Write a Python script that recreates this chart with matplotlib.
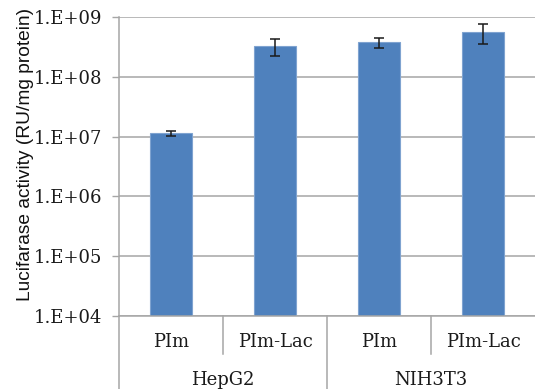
import matplotlib
matplotlib.use("Agg")
import matplotlib.pyplot as plt
import numpy as np
from matplotlib.ticker import FixedLocator, NullLocator

groups = ["HepG2", "NIH3T3"]
subcats = ["PIm", "PIm-Lac", "PIm", "PIm-Lac"]
values = [1.13e7, 3.27e8, 3.78e8, 5.6e8]
errors = [1.2e6, 1.03e8, 0.7e8, 2.05e8]
ytick_vals = [1e4, 1e5, 1e6, 1e7, 1e8, 1e9]
ytick_labels = ["1.E+04", "1.E+05", "1.E+06", "1.E+07", "1.E+08", "1.E+09"]
ylabel = "Lucifarase activity (RU/mg protein)"

W, H = 535, 389
fig = plt.figure(figsize=(W / 100, H / 100), dpi=100)
L, R, T, B = 119, 535, 17, 316
ax = fig.add_axes([L / W, 1 - B / H, (R - L) / W, (B - T) / H])

grid_c = "#a6a6a6"
fs = 13
x = np.arange(len(values))
ax.set_yscale("log")
ax.set_ylim(ytick_vals[0], ytick_vals[-1])
ax.set_xlim(-0.5, len(values) - 0.5)
ax.yaxis.set_major_locator(FixedLocator(ytick_vals))
ax.yaxis.set_minor_locator(NullLocator())
ax.set_yticklabels(ytick_labels, family="DejaVu Serif", fontsize=fs, color="#1a1a1a")
ax.tick_params(axis="y", length=5, width=1, color=grid_c, pad=7)
ax.set_xticks([])
for yv in ytick_vals:
    ax.axhline(yv, color=grid_c, lw=1.1, zorder=0)

ax.bar(x, values, width=0.4, color="#4F81BD", edgecolor="#7FA3D0", linewidth=0.8, zorder=2)
ax.errorbar(x, values, yerr=errors, fmt="none", ecolor="#1a1a1a", elinewidth=1.1,
            capsize=3.5, capthick=1.1, zorder=3)

for s in ["top", "right"]:
    ax.spines[s].set_visible(False)
ax.spines["left"].set_color(grid_c)
ax.spines["bottom"].set_color(grid_c)
ax.spines["left"].set_linewidth(1.1)
ax.spines["bottom"].set_linewidth(1.1)

tr = ax.get_xaxis_transform()
h_ax = B - T
inner_y = -(354 - B) / h_ax
outer_y = -(H - B) / h_ax
ax.plot([-0.5, -0.5], [0, outer_y], transform=tr, color=grid_c, lw=1.1, clip_on=False)
for xs in [0.5, 2.5]:
    ax.plot([xs, xs], [0, inner_y], transform=tr, color=grid_c, lw=1.1, clip_on=False)
ax.plot([1.5, 1.5], [0, outer_y], transform=tr, color=grid_c, lw=1.1, clip_on=False)

sub_y = -(342 - B) / h_ax
grp_y = -(380 - B) / h_ax
for xi, lab in zip(x, subcats):
    ax.text(xi, sub_y, lab, transform=tr, ha="center", va="center",
            family="DejaVu Serif", fontsize=fs, color="#1a1a1a")
for gi, g in enumerate(groups):
    ax.text(gi * 2 + 0.5, grp_y, g, transform=tr, ha="center", va="center",
            family="DejaVu Serif", fontsize=fs, color="#1a1a1a")

fig.text(26 / W, 1 - 154 / H, ylabel, rotation=90, ha="center", va="center",
         family="Liberation Sans", fontsize=13.8, color="#111111")

fig.savefig("out.png", dpi=100)
